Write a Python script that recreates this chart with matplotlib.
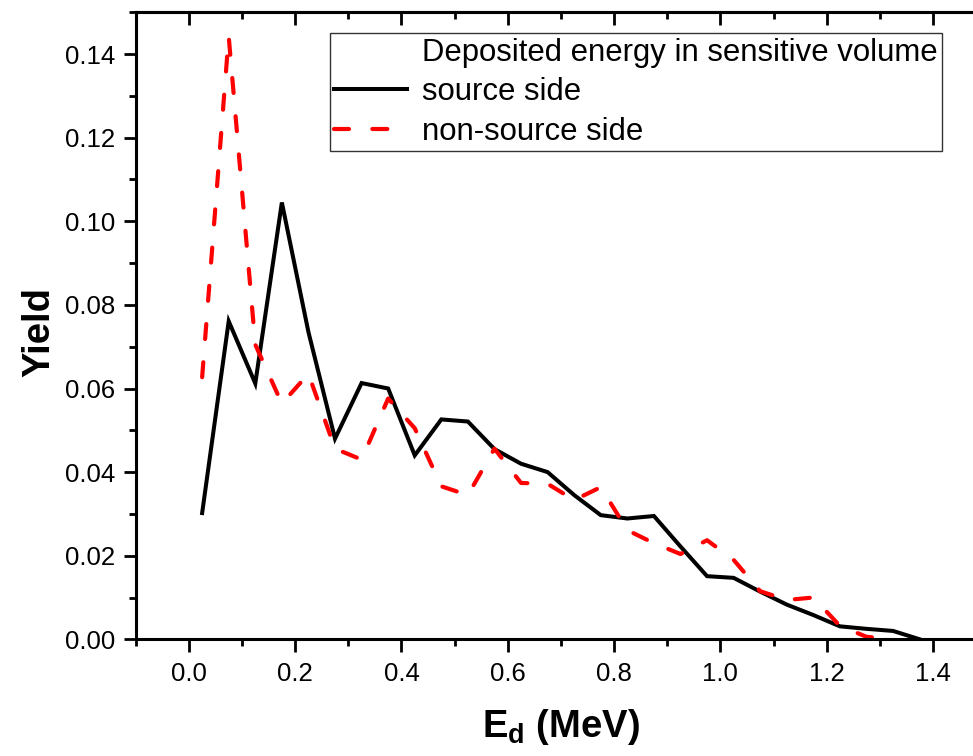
import matplotlib
matplotlib.use("Agg")
import matplotlib.pyplot as plt
from matplotlib.ticker import MultipleLocator, NullFormatter
from matplotlib.lines import Line2D

# bin centres (MeV)
energy = [0.025, 0.075, 0.125, 0.175, 0.225, 0.275, 0.325, 0.375, 0.425,
          0.475, 0.525, 0.575, 0.625, 0.675, 0.725, 0.775, 0.825, 0.875,
          0.925, 0.975, 1.025, 1.075, 1.125, 1.175, 1.225, 1.275, 1.325,
          1.375]

source_side = [0.0302, 0.0761, 0.0612, 0.1045, 0.0735, 0.0480, 0.0613,
               0.0600, 0.0440, 0.0526, 0.0521, 0.0455, 0.0420, 0.0400,
               0.0345, 0.0297, 0.0289, 0.0295, 0.0222, 0.0151, 0.0147,
               0.0114, 0.0083, 0.0058, 0.0031, 0.0025, 0.0020, 0.0000]

non_source_side = [0.0627, 0.1442, 0.0705, 0.0564, 0.0635, 0.0456, 0.0430,
                   0.0576, 0.0505, 0.0366, 0.0345, 0.0456, 0.0374, 0.0372,
                   0.0333, 0.0364, 0.0261, 0.0230, 0.0204, 0.0237, 0.0190,
                   0.0115, 0.0094, 0.0100, 0.0032, 0.0006, 0.0000]

legend_title = "Deposited energy in sensitive volume"
labels = ["source side", "non-source side"]

plt.rcParams["font.family"] = ["Liberation Sans", "DejaVu Sans"]
plt.rcParams["mathtext.fontset"] = "custom"
plt.rcParams["mathtext.rm"] = "Liberation Sans"
plt.rcParams["mathtext.bf"] = "Liberation Sans:bold"

W, H = 973, 756
fig = plt.figure(figsize=(W / 100, H / 100), dpi=100)
# right part of the frame is cut off in the reference
ax = fig.add_axes([135.7 / W, 1 - 639.3 / H, 850.4 / W, 627 / H])

ax.plot(energy, source_side, color="black", lw=2.9, solid_joinstyle="miter")
ax.plot(energy[:len(non_source_side)], non_source_side, color="red", lw=3.0,
        dashes=(3.6, 5.6), dash_capstyle="round")

ax.set_xlim(-0.1, 1.5)
ax.set_ylim(0, 0.15)

ax.xaxis.set_major_locator(MultipleLocator(0.2))
ax.xaxis.set_minor_locator(MultipleLocator(0.1))
ax.yaxis.set_major_locator(MultipleLocator(0.02))
ax.yaxis.set_minor_locator(MultipleLocator(0.01))
ax.xaxis.set_major_formatter(lambda v, p: f"{v:.1f}")
ax.yaxis.set_major_formatter(lambda v, p: f"{v:.2f}")

for sp in ax.spines.values():
    sp.set_linewidth(2.2)

ax.tick_params(which="both", direction="out", width=2.0, labelsize=18.5,
               top=False, right=False)
ax.tick_params(which="major", length=9)
ax.tick_params(which="minor", length=5)
ax.tick_params(axis="x", pad=7)
ax.tick_params(axis="y", pad=6)

top = ax.secondary_xaxis("top")
top.xaxis.set_major_locator(MultipleLocator(0.2))
top.xaxis.set_minor_locator(MultipleLocator(0.1))
top.xaxis.set_major_formatter(NullFormatter())
top.tick_params(which="both", direction="in", width=2.0)
top.tick_params(which="major", length=9)
top.tick_params(which="minor", length=5)
top.spines["top"].set_linewidth(2.2)

ax.set_xlabel(r"E$_{\mathbf{d}}$ (MeV)", fontsize=27.5, fontweight="bold")
ax.set_ylabel("Yield", fontsize=27.5, fontweight="bold")
ax.xaxis.set_label_coords(0.5, -0.108)
ax.yaxis.set_label_coords(-0.092, 0.49)

handles = [Line2D([], [], color="none"),
           Line2D([], [], color="black", lw=2.9),
           Line2D([], [], color="red", lw=3.0, dashes=(3.6, 5.6),
                  dash_capstyle="round")]
leg = ax.legend(handles, [legend_title] + labels, loc="upper right",
                bbox_to_anchor=(942.3 / W, 1 - 33.3 / H),
                bbox_transform=fig.transFigure, borderaxespad=0,
                fontsize=22.4, handlelength=2.35, handletextpad=0.48,
                labelspacing=0.31, borderpad=0.14, fancybox=False,
                framealpha=1, edgecolor="#333333")
leg.get_frame().set_linewidth(1.0)

fig.savefig("out.png", dpi=100)
